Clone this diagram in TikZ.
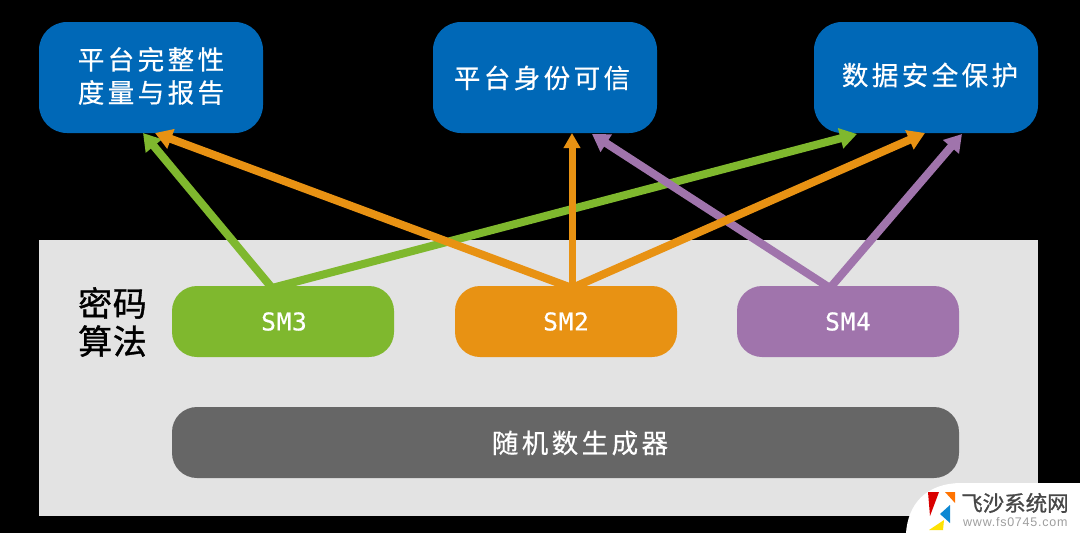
\documentclass[tikz,border=0pt]{standalone}
\usepackage{fontspec}
\usetikzlibrary{arrows.meta}
\newfontfamily\cjk[LetterSpace=13,FakeBold=0.5]{Noto Sans CJK SC}
\newfontfamily\cjklabel[LetterSpace=2,FakeBold=1]{Noto Sans CJK SC}
\newfontfamily\latinf[LetterSpace=3,FakeBold=0.5]{DejaVu Sans Mono}
\newfontfamily\wmf[LetterSpace=6]{Liberation Sans}
\newfontfamily\wmcjk[FakeBold=1]{Noto Sans CJK SC}
\definecolor{cblue}{HTML}{0068B7}
\definecolor{cgreen}{HTML}{7FB82E}
\definecolor{corange}{HTML}{E89213}
\definecolor{cpurple}{HTML}{A074AC}
\definecolor{cdark}{HTML}{666666}
\definecolor{cpanel}{HTML}{E3E3E3}
\tikzset{
 goal/.style={fill=cblue,rounded corners=28pt,minimum width=224pt,minimum height=111pt,inner sep=0pt},
 goaltext/.style={text=white,inner sep=0pt,align=center,font=\fontsize{26.5}{33}\cjk},
 algo/.style={rounded corners=25pt,minimum width=222pt,minimum height=71pt,text=white,inner sep=0pt,font=\fontsize{24.5}{28}\latinf},
 link/.style={line width=8pt,-{Triangle[width=20pt,length=17pt]}},
}
\begin{document}
\begin{tikzpicture}[x=1pt,y=-1pt]
\useasboundingbox (0,0) rectangle (1080,533);
\fill[black] (0,0) rectangle (1080,533);
\node[fill=cpanel,minimum width=999pt,minimum height=276pt,inner sep=0pt] (panel) at (538.5,378) {};
\node[goal] (g1) at (151,77.5) {};
\node[goal] (g2) at (545,77.5) {};
\node[goal] (g3) at (926,77.5) {};
\node[goaltext] (g1t) at (151,76) {平台完整性\\度量与报告};
\node[goaltext] (g2t) at (542,78) {平台身份可信};
\node[goaltext] (g3t) at (930,75) {数据安全保护};
\node[algo,fill=cgreen] (sm3) at (283,321.5) {\hspace{2pt}SM3};
\node[algo,fill=corange] (sm2) at (566,321.5) {SM2};
\node[algo,fill=cpurple] (sm4) at (848,321.5) {SM4};
\node[algo,fill=cdark,minimum width=787pt] (rng) at (565.5,442.5) {};
\node[goaltext] (rngt) at (580,443) {随机数生成器};
\node[text=black,inner sep=0pt,align=center,font=\fontsize{34}{38}\cjklabel] (label) at (112.5,322) {密码\\算法};
\coordinate (s3) at (272,288);
\coordinate (s2) at (572,288);
\coordinate (s4) at (830,288);
\coordinate (t1a) at (143,133);
\coordinate (t1b) at (155,133);
\coordinate (t2a) at (572,133);
\coordinate (t2b) at (592,134);
\coordinate (t3a) at (857,134);
\coordinate (t3b) at (925,133);
\coordinate (t3c) at (962,134);
\draw[link,cgreen] (s3) -- (t1a);
\draw[link,cgreen] (s3) -- (t3a);
\draw[link,cpurple] (s4) -- (t2b);
\draw[link,cpurple] (s4) -- (t3c);
\draw[link,corange] (s2) -- (t1b);
\draw[corange,line width=7pt,-{Triangle[width=16pt,length=15pt]}] (s2) -- (t2a);
\draw[link,corange] (s2) -- (t3b);
% watermark
\fill[white] (906,533) .. controls (908,505) and (925,483) .. (962,483) -- (1080,483) -- (1080,533) -- cycle;
\fill[red!85!black] (928,492) -- (939,492) -- (930,516) -- cycle;
\fill[orange!90!red] (945,492) -- (955,492) -- (955,503) -- cycle;
\fill[cyan!70!blue] (950,505) -- (950,523) -- (940,514) -- cycle;
\fill[yellow!85!orange] (944,520) -- (943,530) -- (929,530) -- cycle;
\node[anchor=west,inner sep=0pt,text=black!72,font=\fontsize{21.5}{24}\wmcjk] (wm1) at (961,503) {飞沙系统网};
\node[anchor=west,inner sep=0pt,text=black!38,font=\fontsize{12.5}{14}\wmf] (wm2) at (963,522) {www.fs0745.com};
\end{tikzpicture}
\end{document}
